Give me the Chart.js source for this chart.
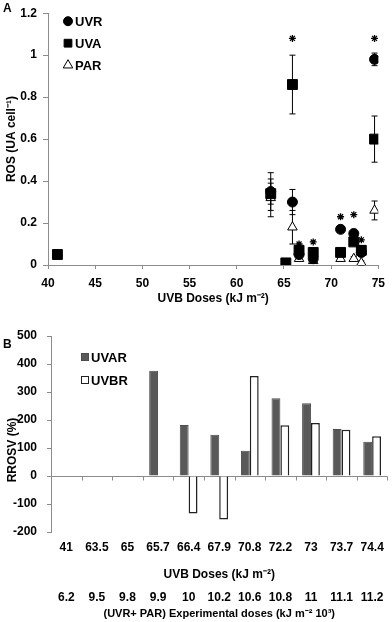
<!DOCTYPE html>
<html lang="en">
<head>
<meta charset="UTF-8">
<title>ROS and RROSV vs UVB doses</title>
<script src="https://cdn.jsdelivr.net/npm/chart.js"></script>
<style>
  body { margin: 0; background: #fff; font-family: "Liberation Sans", Arial, sans-serif; }
  .wrap { position: relative; width: 392px; height: 622px; }
  canvas { position: absolute; left: 0; }
  #chartA { top: 0; width: 392px; height: 310px; }
  #chartB { top: 310px; width: 392px; height: 312px; }
  .panel { position: absolute; font-weight: bold; font-size: 12px; color: #000; }
  .ytitle {
    position: absolute; font-weight: bold; font-size: 12px; color: #000; white-space: nowrap;
    transform: translate(-50%, -50%) rotate(-90deg);
  }
</style>
</head>
<body>
<div class="wrap">
  <canvas id="chartA" width="392" height="310"></canvas>
  <canvas id="chartB" width="392" height="312"></canvas>
  <span class="panel" style="left:3px;top:1px">A</span>
  <span class="panel" style="left:3px;top:337px">B</span>
  <span class="ytitle" style="left:12px;top:450px">RROSV (%)</span>
</div>

<script>
// ---- panel A : ROS (UA cell-1) vs UVB dose ----
const uvrDose = [63.6, 65.9, 66.6, 68.1, 71.0, 72.4, 73.2, 74.6];
const uvrRos  = [0.35, 0.30, 0.05, 0.03, 0.17, 0.15, 0.06, 0.98];
const uvrErr  = [0.09, 0.06, 0.02, 0.01, 0.01, 0.02, 0.02, 0.03];

const uvaDose = [41.0, 63.6, 65.2, 65.9, 66.6, 68.1, 71.0, 72.4, 73.2, 74.6];
const uvaRos  = [0.05, 0.34, 0.01, 0.86, 0.07, 0.06, 0.06, 0.11, 0.07, 0.60];
const uvaErr  = [0, 0.05, 0, 0.14, 0.02, 0.01, 0.01, 0.01, 0.02, 0.11];

const parDose = [63.6, 65.9, 66.6, 68.1, 71.0, 72.4, 73.2, 74.6];
const parRos  = [0.32, 0.18, 0.03, 0.02, 0.03, 0.03, 0.01, 0.26];
const parErr  = [0.09, 0.08, 0.01, 0.01, 0.01, 0.01, 0.01, 0.045];

// significance asterisks
const starDose = [65.9, 74.6, 66.6, 68.1, 71.0, 72.4, 73.2];
const starRos  = [1.08, 1.08, 0.10, 0.11, 0.23, 0.24, 0.12];

// ---- panel B : RROSV (%) ----
const uvbDoses = ['41', '63.5', '65', '65.7', '66.4', '67.9', '70.8', '72.2', '73', '73.7', '74.4'];
const expDoses = ['6.2', '9.5', '9.8', '9.9', '10', '10.2', '10.6', '10.8', '11', '11.1', '11.2'];
const uvarValues = [null, null, null, 376, 182, 147, 90, 278, 260, 168, 122];
const uvbrValues = [null, null, null, null, -134, -155, 357, 181, 189, 165, 142];

Chart.defaults.font.family = '"Liberation Sans", Arial, sans-serif';
Chart.defaults.color = '#000';

const toPoints = (xs, ys) => xs.map((x, i) => ({ x: x, y: ys[i] }));
const boldFont = { weight: 'bold', size: 12 };
const axisGray = '#8c8c8c';

// vertical error bars, drawn just before each dataset's markers
const errorBars = {
  id: 'errorBars',
  beforeDatasetDraw(chart, args) {
    const ds = chart.data.datasets[args.index];
    if (!ds.errors) return;
    const ctx = chart.ctx;
    const y = chart.scales.y;
    ctx.save();
    ctx.strokeStyle = '#000';
    ctx.lineWidth = 1;
    args.meta.data.forEach((pt, j) => {
      const e = ds.errors[j];
      if (!e) return;
      const v = ds.data[j].y;
      const top = y.getPixelForValue(v + e);
      const bot = y.getPixelForValue(v - e);
      ctx.beginPath();
      ctx.moveTo(pt.x, top); ctx.lineTo(pt.x, bot);
      ctx.moveTo(pt.x - 3, top); ctx.lineTo(pt.x + 3, top);
      ctx.moveTo(pt.x - 3, bot); ctx.lineTo(pt.x + 3, bot);
      ctx.stroke();
    });
    ctx.restore();
  }
};

// legend drawn inside the plot area
const innerLegend = {
  id: 'innerLegend',
  afterDraw(chart, args, opts) {
    const { ctx, chartArea } = chart;
    ctx.save();
    ctx.font = 'bold 13px "Liberation Sans", Arial, sans-serif';
    ctx.textBaseline = 'middle';
    let row = 0;
    chart.data.datasets.forEach((ds, i) => {
      if (ds.inLegend === false) return;
      const cx = chartArea.left + opts.left;
      const cy = chartArea.top + opts.top + row * opts.gap;
      ctx.fillStyle = ds.backgroundColor;
      ctx.strokeStyle = ds.borderColor;
      ctx.lineWidth = 1;
      if (opts.box) {
        ctx.fillRect(cx - opts.box / 2, cy - opts.box / 2, opts.box, opts.box);
        ctx.strokeRect(cx - opts.box / 2, cy - opts.box / 2, opts.box, opts.box);
      } else {
        Chart.helpers.drawPoint(ctx, { pointStyle: ds.pointStyle, radius: opts.radii[i], borderWidth: 1, rotation: 0 }, cx, cy);
      }
      ctx.fillStyle = '#000';
      ctx.fillText(ds.label, cx + opts.textGap, cy + 1);
      row++;
    });
    ctx.restore();
  }
};

// small tick marks hanging under the zero line, between categories
const zeroTicks = {
  id: 'zeroTicks',
  afterDatasetsDraw(chart) {
    const ctx = chart.ctx;
    const x = chart.scales.x;
    const y0 = Math.round(chart.scales.y.getPixelForValue(0)) + 0.5;
    ctx.save();
    ctx.strokeStyle = axisGray;
    ctx.lineWidth = 1;
    ctx.beginPath();
    for (let i = 0; i <= uvbDoses.length; i++) {
      const px = Math.round(x.getPixelForValue(i - 0.5)) + 0.5;
      ctx.moveTo(px, y0);
      ctx.lineTo(px, y0 + 4);
    }
    ctx.stroke();
    ctx.restore();
  }
};

new Chart(document.getElementById('chartA'), {
  type: 'scatter',
  data: {
    datasets: [
      { label: 'UVR', data: toPoints(uvrDose, uvrRos), errors: uvrErr, pointStyle: 'circle', pointRadius: 5,
        backgroundColor: '#000', borderColor: '#000' },
      { label: 'UVA', data: toPoints(uvaDose, uvaRos), errors: uvaErr, pointStyle: 'rect', pointRadius: 7,
        backgroundColor: '#000', borderColor: '#000' },
      { label: 'PAR', data: toPoints(parDose, parRos), errors: parErr, pointStyle: 'triangle', pointRadius: 5.5,
        backgroundColor: '#fff', borderColor: '#000', borderWidth: 1 },
      { label: '*', data: toPoints(starDose, starRos), pointStyle: 'star', pointRadius: 3.5, inLegend: false,
        backgroundColor: '#000', borderColor: '#000', borderWidth: 1.3 }
    ]
  },
  options: {
    responsive: false,
    animation: false,
    layout: { padding: { top: 7, right: 12, left: 0, bottom: 0 } },
    plugins: {
      legend: { display: false },
      tooltip: { enabled: false },
      innerLegend: { left: 20, top: 8, gap: 22, textGap: 7, radii: [4.5, 5.5, 5.5] }
    },
    scales: {
      x: {
        type: 'linear', min: 40, max: 75,
        ticks: { stepSize: 5, font: boldFont, padding: 7 },
        grid: { drawOnChartArea: false, tickLength: 4, color: axisGray },
        border: { color: axisGray },
        title: { display: true, text: 'UVB Doses (kJ m\u207B\u00B2)', font: boldFont },
        afterFit: s => { s.height = 45; }
      },
      y: {
        min: 0, max: 1.2,
        ticks: { stepSize: 0.2, font: boldFont, padding: 6, callback: v => String(+v.toFixed(1)) },
        grid: { drawOnChartArea: false, tickLength: 5, color: axisGray },
        border: { color: axisGray },
        title: { display: true, text: 'ROS (UA cell\u207B\u00B9)', font: boldFont },
        afterFit: s => { s.width = 48; }
      }
    }
  },
  plugins: [errorBars, innerLegend]
});

new Chart(document.getElementById('chartB'), {
  type: 'bar',
  data: {
    labels: uvbDoses,
    datasets: [
      { label: 'UVAR', data: uvarValues, backgroundColor: '#595959', borderColor: '#4d4d4d', borderWidth: 1 },
      { label: 'UVBR', data: uvbrValues, backgroundColor: '#ffffff', borderColor: '#222222', borderWidth: 1.5 }
    ]
  },
  options: {
    responsive: false,
    animation: false,
    categoryPercentage: 0.58,
    barPercentage: 1,
    layout: { padding: { top: 26, right: 4, left: 0, bottom: 1 } },
    plugins: {
      legend: { display: false },
      tooltip: { enabled: false },
      innerLegend: { left: 34, top: 21, gap: 23, textGap: 6, box: 7 }
    },
    scales: {
      x: {
        weight: 0,
        ticks: { font: boldFont, padding: 8, maxRotation: 0, autoSkip: false },
        grid: { display: false, drawTicks: false },
        border: { display: false },
        title: { display: true, text: 'UVB Doses (kJ m\u207B\u00B2)', font: boldFont },
        afterFit: s => { s.height = 54; }
      },
      x2: {
        type: 'category', position: 'bottom', weight: 1,
        labels: expDoses, offset: true,
        ticks: { font: boldFont, padding: 4, maxRotation: 0, autoSkip: false },
        grid: { display: false, drawTicks: false },
        border: { display: false },
        title: { display: true, text: '(UVR+ PAR) Experimental doses (kJ m\u207B\u00B2 10\u00B3)',
                 font: { weight: 'bold', size: 11 }, padding: { top: 0, bottom: 0 } },
        afterFit: s => { s.height = 35; }
      },
      y: {
        min: -200, max: 500,
        ticks: { stepSize: 100, font: boldFont, padding: 10 },
        grid: {
          tickLength: 4,
          tickColor: axisGray,
          color: c => (c.tick && c.tick.value === 0 ? axisGray : 'rgba(0,0,0,0)')
        },
        border: { color: axisGray },
        // axis title is the rotated span in the page (it sits below the middle of the axis)
        title: { display: false },
        afterFit: s => { s.width = 51; }
      }
    }
  },
  plugins: [innerLegend, zeroTicks]
});
</script>
</body>
</html>
